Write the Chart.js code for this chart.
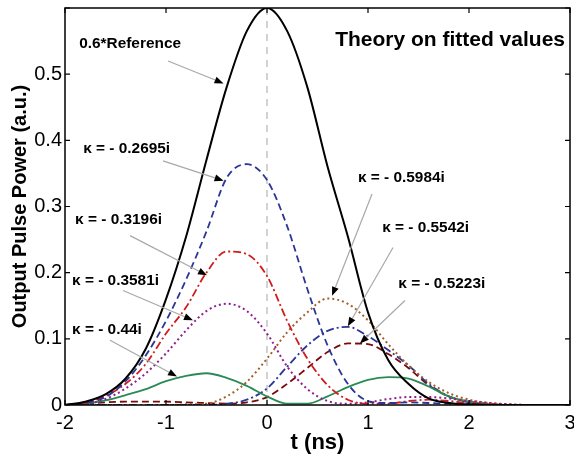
<!DOCTYPE html>
<html><head><meta charset="utf-8">
<script src="https://cdn.jsdelivr.net/npm/chart.js@4.4.1/dist/chart.umd.min.js"></script>
<style>html,body{margin:0;padding:0;background:#fff;}#wrap{width:574px;height:458px;}</style>
</head><body><div id="wrap"><canvas id="c" width="574" height="458"></canvas></div>
<script>
// time grid (ns)
const tValues = [-2,-1.8,-1.6,-1.4,-1.2,-1.0,-0.8,-0.6,-0.4,-0.2,0,0.2,0.4,0.6,0.8,1.0,1.2,1.4,1.6,1.8,2.0,2.2,2.4,2.6,2.8,3.0];
// series values (a.u.)
const reference = [0,0.005,0.016,0.04,0.085,0.16,0.255,0.37,0.48,0.565,0.6,0.565,0.48,0.36,0.255,0.14,0.068,0.032,0.01,0.003,0.001,0,0,0,0,0];
const k2695 = [0,0.003,0.012,0.036,0.075,0.127,0.19,0.262,0.343,0.364,0.34,0.27,0.175,0.09,0.032,0.006,0.003,0.004,0.003,0.002,0.001,0,0,0,0,0];
const k3196 = [0,0.003,0.014,0.032,0.062,0.108,0.148,0.2,0.232,0.228,0.195,0.127,0.07,0.03,0.008,0.002,0.002,0.006,0.008,0.006,0.003,0.001,0,0,0,0];
const k3581 = [0,0.002,0.009,0.025,0.048,0.078,0.113,0.142,0.153,0.142,0.108,0.058,0.024,0.006,0.002,0.004,0.009,0.012,0.012,0.01,0.006,0.003,0.001,0,0,0];
const k44   = [0,0.002,0.007,0.015,0.024,0.036,0.044,0.048,0.041,0.029,0.013,0.002,0.002,0.013,0.027,0.038,0.042,0.04,0.028,0.013,0.005,0.001,0,0,0,0];
const k5984 = [0,0,0,0,0,0,0.001,0.002,0.013,0.035,0.07,0.11,0.14,0.161,0.153,0.128,0.092,0.06,0.035,0.018,0.008,0.003,0.001,0,0,0];
const k5542 = [0,0,0,0,0,0,0,0,0.002,0.008,0.025,0.058,0.09,0.112,0.118,0.104,0.083,0.06,0.032,0.013,0.004,0.001,0,0,0,0];
const k5223 = [0,0.002,0.004,0.005,0.005,0.005,0.004,0.003,0.002,0.004,0.012,0.032,0.056,0.08,0.093,0.092,0.077,0.056,0.03,0.013,0.005,0.002,0,0,0,0];
// axis ticks
const xTickValues = [-2,-1,0,1,2,3];
const yTickValues = [0,0.1,0.2,0.3,0.4,0.5,0.6];
const yTickLabels = ['0','0.1','0.2','0.3','0.4','0.5',''];
// annotations: text anchor (t,y), arrow from (t,y) to (t,y)
const annotations = [
  {text:'0.6*Reference', at:[-1.86,0.545], from:[-0.98,0.52], to:[-0.43,0.486]},
  {text:'\u03BA = - 0.2695i', at:[-1.82,0.387], from:[-1.03,0.369], to:[-0.43,0.339]},
  {text:'\u03BA = - 0.3196i', at:[-1.90,0.279], from:[-1.356,0.256], to:[-0.594,0.196]},
  {text:'\u03BA = - 0.3581i', at:[-1.93,0.187], from:[-1.426,0.173], to:[-0.733,0.128]},
  {text:'\u03BA = - 0.44i', at:[-1.93,0.113], from:[-1.554,0.098], to:[-0.891,0.043]},
  {text:'\u03BA = - 0.5984i', at:[0.90,0.343], from:[1.04,0.319], to:[0.644,0.165]},
  {text:'\u03BA = - 0.5542i', at:[1.14,0.267], from:[1.248,0.238], to:[0.80,0.119]},
  {text:'\u03BA = - 0.5223i', at:[1.30,0.182], from:[1.366,0.158], to:[0.92,0.093]}
];
const titleText = 'Theory on fitted values';

function pts(arr){ return tValues.map((t,i)=>({x:t,y:arr[i]})); }

const frame = {
  id:'frame',
  afterDatasetsDraw(chart){
    const {ctx, chartArea:a, scales:{x,y}} = chart;
    ctx.save();
    // annotations
    ctx.textBaseline = 'middle';
    ctx.textAlign = 'left';
    annotations.forEach(an=>{
      ctx.fillStyle = '#000';
      ctx.font = 'bold 14px "Liberation Sans", Arial, sans-serif';
      const tx = x.getPixelForValue(an.at[0]), ty = y.getPixelForValue(an.at[1]);
      ctx.save(); ctx.translate(tx,ty); ctx.scale(1.1,1); ctx.fillText(an.text,0,0); ctx.restore();
      const x1=x.getPixelForValue(an.from[0]), y1=y.getPixelForValue(an.from[1]);
      const x2=x.getPixelForValue(an.to[0]), y2=y.getPixelForValue(an.to[1]);
      const ang=Math.atan2(y2-y1,x2-x1), L=9, W=3.5;
      const bx=x2-L*Math.cos(ang), by=y2-L*Math.sin(ang);
      ctx.strokeStyle='#a8a8a8'; ctx.lineWidth=1.2; ctx.setLineDash([]);
      ctx.beginPath(); ctx.moveTo(x1,y1); ctx.lineTo(bx,by); ctx.stroke();
      ctx.beginPath(); ctx.moveTo(x2,y2);
      ctx.lineTo(bx+W*Math.sin(ang), by-W*Math.cos(ang));
      ctx.lineTo(bx-W*Math.sin(ang), by+W*Math.cos(ang));
      ctx.closePath(); ctx.fill();
    });
    ctx.fillStyle='#000';
    ctx.font = 'bold 21px "Liberation Sans", Arial, sans-serif';
    ctx.textAlign='right';
    ctx.fillText(titleText, a.right-5, a.top+32);
    // frame and inward ticks
    ctx.strokeStyle='#000'; ctx.lineWidth=1.5; ctx.setLineDash([]);
    ctx.strokeRect(a.left, a.top, a.right-a.left, a.bottom-a.top);
    ctx.lineWidth=1.2;
    const tl=5;
    x.ticks.forEach(tk=>{
      const px=x.getPixelForValue(tk.value);
      ctx.beginPath(); ctx.moveTo(px,a.bottom); ctx.lineTo(px,a.bottom-tl);
      ctx.moveTo(px,a.top); ctx.lineTo(px,a.top+tl); ctx.stroke();
    });
    y.ticks.forEach(tk=>{
      const py=y.getPixelForValue(tk.value);
      ctx.beginPath(); ctx.moveTo(a.left,py); ctx.lineTo(a.left+tl,py);
      ctx.moveTo(a.right,py); ctx.lineTo(a.right-tl,py); ctx.stroke();
    });
    ctx.restore();
  }
};

const mk = (label, arr, color, dash, w) => ({label, data:pts(arr), borderColor:color, borderDash:dash, borderWidth:w, pointRadius:0, fill:false, cubicInterpolationMode:'monotone'});

new Chart(document.getElementById('c'), {
  type:'line',
  data:{datasets:[
    mk('0.6*Reference', reference, '#000000', [], 2),
    mk('\u03BA = - 0.2695i', k2695, '#2b3596', [7,4], 1.8),
    mk('\u03BA = - 0.3196i', k3196, '#d01c1c', [8,3,2,3], 1.8),
    mk('\u03BA = - 0.3581i', k3581, '#8e1f8e', [2,3], 2),
    mk('\u03BA = - 0.44i', k44, '#2a8a55', [], 1.8),
    mk('\u03BA = - 0.5984i', k5984, '#a0602a', [2,3], 2),
    mk('\u03BA = - 0.5542i', k5542, '#2b3596', [8,3,2,3], 1.8),
    mk('\u03BA = - 0.5223i', k5223, '#7a0a0a', [7,4], 1.8),
    {label:'t=0', data:[{x:0,y:0},{x:0,y:0.6}], borderColor:'#c4c4c4', borderDash:[7,6], borderWidth:1.5, pointRadius:0, order:10}
  ]},
  options:{
    responsive:false, animation:false, devicePixelRatio:1,
    layout:{padding:{top:8,right:4,left:0,bottom:0}},
    plugins:{legend:{display:false}, tooltip:{enabled:false}},
    scales:{
      x:{type:'linear', min:-2, max:3,
        afterBuildTicks(s){ s.ticks = xTickValues.map(v=>({value:v})); },
        afterFit(s){ s.height=53; s.paddingLeft=0; s.paddingRight=0; },
        grid:{display:false, drawTicks:false}, border:{display:false},
        ticks:{padding:6, color:'#000', font:{family:'"Liberation Sans", Arial, sans-serif', size:20}, callback:(v)=>String(v)},
        title:{display:true, text:'t (ns)', color:'#000', font:{family:'"Liberation Sans", Arial, sans-serif', size:22, weight:'bold'}, padding:{top:0,bottom:2}}
      },
      y:{type:'linear', min:0, max:0.6,
        afterBuildTicks(s){ s.ticks = yTickValues.map(v=>({value:v})); },
        afterFit(s){ s.width=65; s.paddingTop=0; s.paddingBottom=0; },
        grid:{display:false, drawTicks:false}, border:{display:false},
        ticks:{padding:3, color:'#000', font:{family:'"Liberation Sans", Arial, sans-serif', size:20}, callback:(v,i)=>yTickLabels[yTickValues.findIndex(q=>Math.abs(q-v)<1e-9)] ?? ''},
        title:{display:true, text:'Output Pulse Power (a.u.)', color:'#000', font:{family:'"Liberation Sans", Arial, sans-serif', size:20, weight:'bold'}, padding:{top:8,bottom:0}}
      }
    }
  },
  plugins:[frame]
});
</script></body></html>
